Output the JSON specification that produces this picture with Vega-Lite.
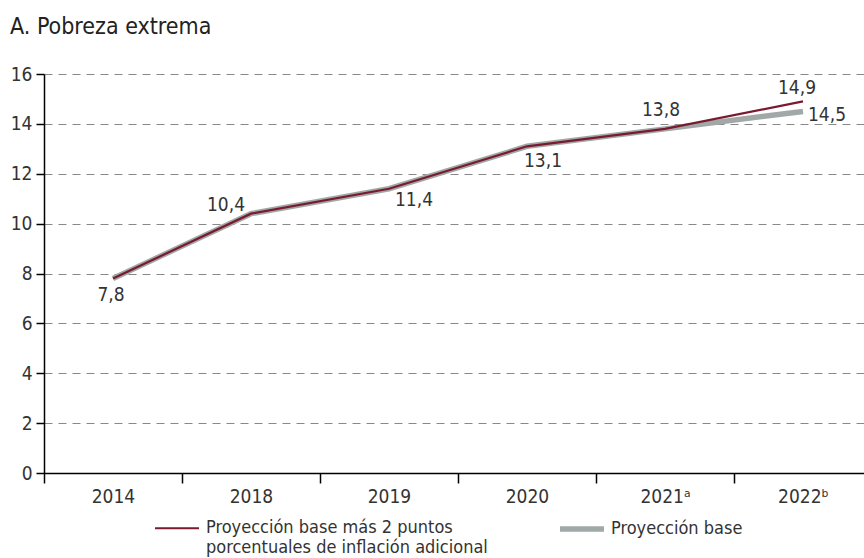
{
  "$schema": "https://vega.github.io/schema/vega-lite/v6.json",
  "autosize": {"type": "none"},
  "padding": {"left": 44, "top": 74, "right": 0, "bottom": 85},
  "width": 828,
  "height": 399,
  "background": "white",
  "title": {"text": "A. Pobreza extrema", "anchor": "start", "frame": "group", "dx": -34, "offset": 26, "fontSize": 23, "fontWeight": "normal", "color": "#222", "font": "DejaVu Sans Condensed, sans-serif"},
  "config": {
    "font": "DejaVu Sans Condensed, sans-serif",
    "view": {"stroke": null},
    "axis": {"labelFont": "DejaVu Sans Condensed, sans-serif", "labelFontSize": 19, "labelColor": "#333", "domainColor": "#000", "tickColor": "#000", "title": null}
  },
  "data": {"values": [
    {"year": "2014", "series": "Proyección base más 2 puntos porcentuales de inflación adicional", "value": 7.8},
    {"year": "2018", "series": "Proyección base más 2 puntos porcentuales de inflación adicional", "value": 10.4},
    {"year": "2019", "series": "Proyección base más 2 puntos porcentuales de inflación adicional", "value": 11.4},
    {"year": "2020", "series": "Proyección base más 2 puntos porcentuales de inflación adicional", "value": 13.1},
    {"year": "2021ᵃ", "series": "Proyección base más 2 puntos porcentuales de inflación adicional", "value": 13.8},
    {"year": "2022ᵇ", "series": "Proyección base más 2 puntos porcentuales de inflación adicional", "value": 14.9},
    {"year": "2014", "series": "Proyección base", "value": 7.8},
    {"year": "2018", "series": "Proyección base", "value": 10.4},
    {"year": "2019", "series": "Proyección base", "value": 11.4},
    {"year": "2020", "series": "Proyección base", "value": 13.1},
    {"year": "2021ᵃ", "series": "Proyección base", "value": 13.8},
    {"year": "2022ᵇ", "series": "Proyección base", "value": 14.5}
  ]},
  "transform": [{"calculate": "replace(format(datum.value, '.1f'), '.', ',')", "as": "label"}],
  "encoding": {
    "x": {"field": "year", "type": "nominal", "sort": null,
      "scale": {"type": "band", "paddingInner": 0, "paddingOuter": 0},
      "axis": {"tickBand": "extent", "tickSize": 10, "labelAngle": 0, "labelPadding": 4, "domainWidth": 1.5, "tickWidth": 1.5, "grid": false}},
    "y": {"field": "value", "type": "quantitative",
      "scale": {"domain": [0, 16], "nice": false},
      "axis": {"values": [0, 2, 4, 6, 8, 10, 12, 14, 16], "tickSize": 8, "labelPadding": 4, "domainWidth": 1.5, "tickWidth": 1.5, "grid": true, "gridDash": [8, 6], "gridColor": "#888", "gridWidth": 1}}
  },
  "layer": [
    {
      "transform": [{"filter": "datum.series == 'Proyección base'"}],
      "mark": {"type": "line"},
      "encoding": {
        "color": {"field": "series", "type": "nominal",
          "scale": {"domain": ["Proyección base más 2 puntos porcentuales de inflación adicional", "Proyección base"], "range": ["#7a1a2e", "#a0a9a8"]},
          "legend": {"orient": "none", "legendX": 108, "legendY": 430, "direction": "horizontal", "columns": 2, "columnPadding": 61, "title": null, "symbolType": "stroke", "symbolSize": 1936, "labelFontSize": 18, "labelColor": "#333", "labelOffset": 4, "labelLimit": 500,
            "labelExpr": "datum.label == 'Proyección base' ? ['Proyección base', ' '] : ['Proyección base más 2 puntos', 'porcentuales de inflación adicional']"}},
        "strokeWidth": {"field": "series", "type": "nominal",
          "scale": {"domain": ["Proyección base más 2 puntos porcentuales de inflación adicional", "Proyección base"], "range": [2.2, 5.5]}}
      }
    },
    {
      "transform": [{"filter": "datum.series != 'Proyección base'"}],
      "mark": {"type": "line"},
      "encoding": {
        "color": {"field": "series", "type": "nominal"},
        "strokeWidth": {"field": "series", "type": "nominal"}
      }
    },
    {"transform": [{"filter": "datum.series != 'Proyección base' && datum.year == '2014'"}],
     "mark": {"type": "text", "fontSize": 19, "color": "#333", "dx": -2, "dy": 17}, "encoding": {"text": {"field": "label"}}},
    {"transform": [{"filter": "datum.series != 'Proyección base' && datum.year == '2018'"}],
     "mark": {"type": "text", "fontSize": 19, "color": "#333", "dx": -25, "dy": -9}, "encoding": {"text": {"field": "label"}}},
    {"transform": [{"filter": "datum.series != 'Proyección base' && datum.year == '2019'"}],
     "mark": {"type": "text", "fontSize": 19, "color": "#333", "dx": 25, "dy": 11}, "encoding": {"text": {"field": "label"}}},
    {"transform": [{"filter": "datum.series != 'Proyección base' && datum.year == '2020'"}],
     "mark": {"type": "text", "fontSize": 19, "color": "#333", "dx": 16, "dy": 15}, "encoding": {"text": {"field": "label"}}},
    {"transform": [{"filter": "datum.series != 'Proyección base' && datum.year == '2021ᵃ'"}],
     "mark": {"type": "text", "fontSize": 19, "color": "#333", "dx": -4, "dy": -19}, "encoding": {"text": {"field": "label"}}},
    {"transform": [{"filter": "datum.series != 'Proyección base' && datum.year == '2022ᵇ'"}],
     "mark": {"type": "text", "fontSize": 19, "color": "#333", "dx": -6, "dy": -13}, "encoding": {"text": {"field": "label"}}},
    {"transform": [{"filter": "datum.series == 'Proyección base' && datum.year == '2022ᵇ'"}],
     "mark": {"type": "text", "fontSize": 19, "color": "#333", "dx": 24, "dy": 4}, "encoding": {"text": {"field": "label"}}}
  ]
}
